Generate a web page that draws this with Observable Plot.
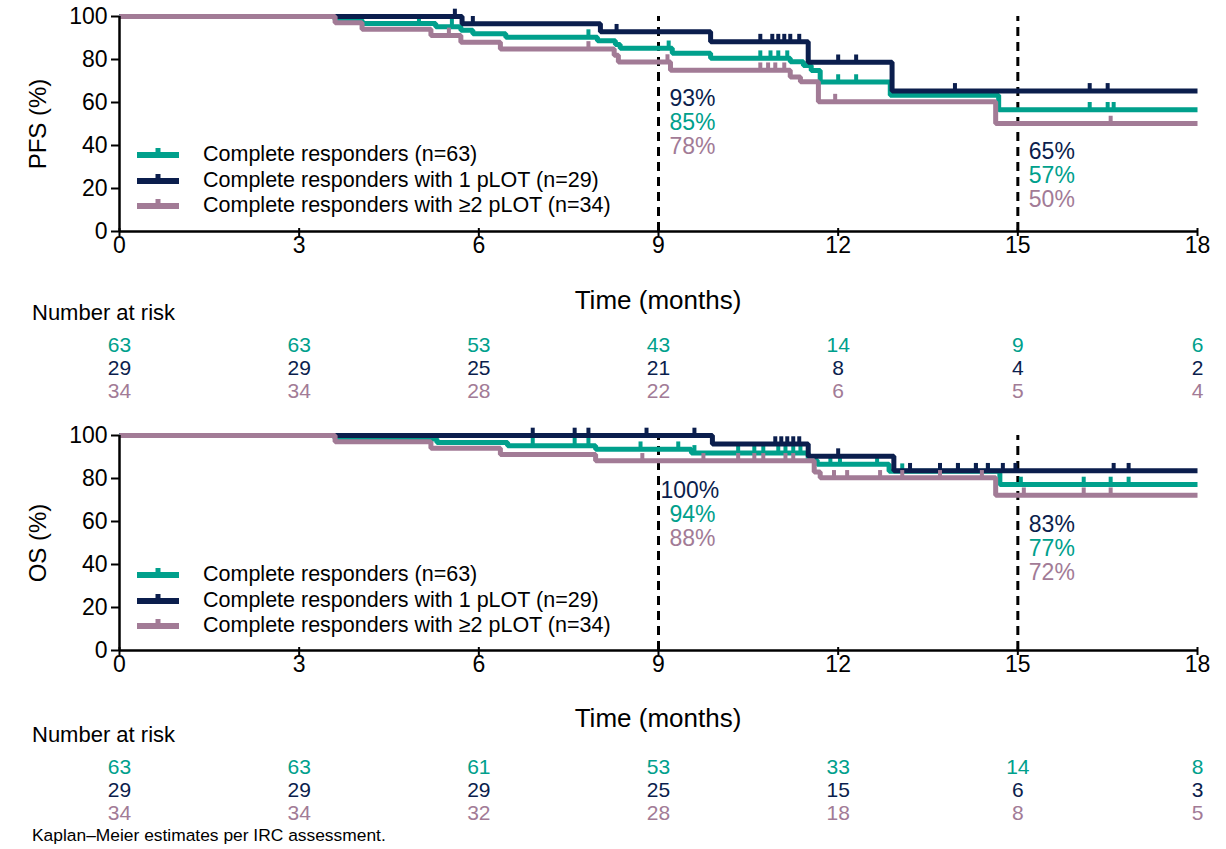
<!DOCTYPE html>
<html><head><meta charset="utf-8">
<script src="https://cdn.jsdelivr.net/npm/d3@7"></script>
<script src="https://cdn.jsdelivr.net/npm/@observablehq/plot@0.6"></script>
<style>
body{margin:0;background:#fff;font-family:"Liberation Sans",Arial,sans-serif;}
#root{position:relative;width:1226px;height:849px;overflow:hidden;background:#fff;}
.abs{position:absolute;white-space:nowrap;}
</style></head><body><div id="root"></div>
<script>
// ---------- data ----------
const groups = ["Complete responders (n=63)", "Complete responders with 1 pLOT (n=29)", "Complete responders with \u22652 pLOT (n=34)"];
const colors = ["#00A08C", "#0B1E4D", "#A27B96"];
const xTicks = [0, 3, 6, 9, 12, 15, 18];
const yTicks = [0, 20, 40, 60, 80, 100];
const landmarks = [9, 15];

// PFS – complete responders
const pfsCR_t = [0, 3.6, 4.05, 5.28, 5.7, 5.9, 6.45, 7.98, 8.28, 8.36, 9.23, 9.87, 11.2, 11.42, 11.55, 11.7, 12.87, 14.68, 18];
const pfsCR_s = [100, 98.4, 96.8, 95.2, 93.6, 92.0, 90.4, 88.7, 87.0, 85.2, 82.9, 80.6, 79.0, 77.2, 74.9, 69.5, 63.4, 56.6, 56.6];
const pfsCR_c = [5.0, 5.55, 7.83, 9.17, 10.7, 10.87, 11.0, 11.15, 12.0, 12.3, 16.2, 16.5, 16.6];
// PFS – 1 pLOT
const pfs1_t = [0, 5.72, 8.03, 9.87, 11.5, 12.9, 18];
const pfs1_s = [100, 96.6, 92.9, 88.3, 78.7, 65.4, 65.4];
const pfs1_c = [5.6, 5.9, 8.3, 10.7, 10.9, 11.0, 11.1, 11.2, 11.35, 12.0, 12.3, 13.95, 16.2, 16.5];
// PFS – >=2 pLOT
const pfs2_t = [0, 3.6, 4.05, 5.2, 5.7, 6.36, 8.26, 8.33, 9.2, 11.2, 11.37, 11.67, 14.63, 18];
const pfs2_s = [100, 97.1, 94.1, 91.2, 88.0, 84.9, 82.0, 78.8, 75.0, 71.9, 69.7, 60.4, 50.2, 50.2];
const pfs2_c = [5.5, 7.83, 9.15, 10.7, 10.83, 10.95, 11.1, 11.95, 16.55];

// OS – complete responders
const osCR_t = [0, 3.6, 5.3, 6.48, 7.95, 9.55, 11.5, 11.65, 12.85, 14.7, 18];
const osCR_s = [100, 98.4, 96.8, 95.2, 93.6, 91.9, 88.5, 86.6, 83.4, 77.2, 77.2];
const osCR_c = [6.9, 7.6, 7.83, 8.7, 9.33, 9.6, 10.33, 10.6, 10.75, 11.0, 11.12, 11.25, 11.37, 11.87, 12.03, 12.65, 13.07, 13.7, 14.0, 14.3, 14.5, 15.05, 16.1, 16.55, 16.85];
// OS – 1 pLOT
const os1_t = [0, 9.9, 11.5, 12.93, 18];
const os1_s = [100, 96.0, 90.4, 83.6, 83.6];
const os1_c = [6.9, 7.6, 7.83, 8.8, 9.6, 10.95, 11.05, 11.15, 11.25, 11.35, 12.0, 13.2, 13.7, 14.0, 14.3, 14.5, 14.75, 14.96, 16.6, 16.85];
// OS – >=2 pLOT
const os2_t = [0, 3.6, 5.2, 6.36, 7.95, 11.6, 11.7, 14.63, 18];
const os2_s = [100, 97.1, 94.1, 91.2, 88.2, 83.0, 80.3, 72.2, 72.2];
const os2_c = [8.73, 9.75, 10.33, 10.6, 10.75, 11.12, 11.25, 11.93, 12.15, 12.7, 13.07, 13.7, 14.4, 15.1, 16.1, 16.55];

// Number at risk
const pfsRiskCR = [63, 63, 53, 43, 14, 9, 6];
const pfsRisk1 = [29, 29, 25, 21, 8, 4, 2];
const pfsRisk2 = [34, 34, 28, 22, 6, 5, 4];
const osRiskCR = [63, 63, 61, 53, 33, 14, 8];
const osRisk1 = [29, 29, 29, 25, 15, 6, 3];
const osRisk2 = [34, 34, 32, 28, 18, 8, 5];

// Landmark estimates (order: 1 pLOT, all CR, >=2 pLOT)
const pfsAt9 = ["93%", "85%", "78%"];
const pfsAt15 = ["65%", "57%", "50%"];
const osAt9 = ["100%", "94%", "88%"];
const osAt15 = ["83%", "77%", "72%"];

// ---------- helpers ----------
const FONT = '"Liberation Sans", Arial, sans-serif';
const root = document.getElementById("root");
function place(el, left, top) { el.classList.add("abs"); el.style.left = left + "px"; el.style.top = top + "px"; root.appendChild(el); return el; }
function textDiv(txt, left, centerY, size, color = "#000", extra = {}) {
  const d = document.createElement("div");
  d.textContent = txt;
  d.style.fontSize = size + "px"; d.style.color = color; d.style.lineHeight = size + "px";
  Object.assign(d.style, extra);
  place(d, left, centerY - size / 2);
  return d;
}
function stepAt(ts, ss, t) { let v = ss[0]; for (let i = 0; i < ts.length; i++) if (ts[i] <= t) v = ss[i]; return v; }
const rowOrder = [1, 0, 2]; // navy, teal, mauve rows for landmark text

function panel(series, at9, at15, base9, base15, dx9) {
  const marks = [
    Plot.ruleX(landmarks, {y1: 0, y2: 100, stroke: "#000", strokeWidth: 3, strokeDasharray: "9,6"})
  ];
  series.forEach((sr, gi) => {
    const pts = sr.t.map((t, i) => ({t, s: sr.s[i]}));
    const cens = sr.c.map(t => ({t, s: stepAt(sr.t, sr.s, t)}));
    marks.push(Plot.line(pts, {x: "t", y: "s", curve: "step-after", stroke: colors[gi], strokeWidth: 5, strokeLinejoin: "miter", strokeLinecap: "butt"}));
    marks.push(Plot.ruleX(cens, {x: "t", y1: "s", y2: d => d.s + 3.4, stroke: colors[gi], strokeWidth: 4}));
  });
  rowOrder.forEach((gi, i) => {
    marks.push(Plot.text([at9[i]], {x: 9, y: base9, dy: i * 24, dx: dx9[i], text: d => d, fill: colors[gi], fontSize: 23, textAnchor: "start", fontFamily: FONT}));
    marks.push(Plot.text([at15[i]], {x: 15, y: base15, dy: i * 24, dx: 11, text: d => d, fill: colors[gi], fontSize: 23, textAnchor: "start", fontFamily: FONT}));
  });
  marks.push(
    Plot.axisX({ticks: xTicks, tickSize: 8, tickPadding: 0, dy: -3, fontSize: 23, strokeWidth: 2, label: null, fontFamily: FONT}),
    Plot.axisY({ticks: yTicks, tickSize: 8, tickPadding: 4, fontSize: 23, strokeWidth: 2, label: null, fontFamily: FONT}),
    Plot.ruleY([0], {strokeWidth: 2.5, stroke: "#000"}),
    Plot.ruleX([0], {strokeWidth: 2.5, stroke: "#000"})
  );
  return Plot.plot({
    width: 1226, height: 312,
    marginLeft: 119, marginRight: 29, marginTop: 16, marginBottom: 81,
    x: {domain: [0, 18]},
    y: {domain: [0, 100]},
    style: {fontFamily: FONT, color: "#000", background: "transparent", overflow: "visible"},
    marks
  });
}

function riskTable(rows) {
  const data = [];
  rows.forEach((vals, gi) => vals.forEach((v, i) => data.push({t: xTicks[i], g: groups[gi], v, gi})));
  return Plot.plot({
    width: 1226, height: 72,
    marginLeft: 119, marginRight: 29, marginTop: 0, marginBottom: 0,
    x: {domain: [0, 18], axis: null},
    y: {type: "point", domain: groups, range: [12, 58], padding: 0, axis: null},
    style: {fontFamily: FONT, background: "transparent", overflow: "visible"},
    marks: [
      Plot.text(data, {x: "t", y: "g", text: "v", fill: d => colors[d.gi], fontSize: 21, fontFamily: FONT})
    ]
  });
}

function legend(topCenter) {
  groups.forEach((g, gi) => {
    const cy = topCenter + gi * 25.5;
    const ns = "http://www.w3.org/2000/svg";
    const svg = document.createElementNS(ns, "svg");
    svg.setAttribute("width", 44); svg.setAttribute("height", 16);
    const ln = document.createElementNS(ns, "line");
    ln.setAttribute("x1", 1); ln.setAttribute("x2", 43); ln.setAttribute("y1", 10); ln.setAttribute("y2", 10);
    ln.setAttribute("stroke", colors[gi]); ln.setAttribute("stroke-width", 6);
    const tk = document.createElementNS(ns, "line");
    tk.setAttribute("x1", 22); tk.setAttribute("x2", 22); tk.setAttribute("y1", 10); tk.setAttribute("y2", 3);
    tk.setAttribute("stroke", colors[gi]); tk.setAttribute("stroke-width", 5);
    svg.appendChild(ln); svg.appendChild(tk);
    place(svg, 136, cy - 10);
    textDiv(g, 203, cy, 21.5);
  });
}

// ---------- panels ----------
const pfsSeries = [
  {t: pfsCR_t, s: pfsCR_s, c: pfsCR_c},
  {t: pfs1_t, s: pfs1_s, c: pfs1_c},
  {t: pfs2_t, s: pfs2_s, c: pfs2_c}
];
const osSeries = [
  {t: osCR_t, s: osCR_s, c: osCR_c},
  {t: os1_t, s: os1_s, c: os1_c},
  {t: os2_t, s: os2_s, c: os2_c}
];
place(panel(pfsSeries, pfsAt9, pfsAt15, 62, 37.2, [11, 11, 11]), 0, 0);
place(riskTable([pfsRiskCR, pfsRisk1, pfsRisk2]), 0, 333);
place(panel(osSeries, osAt9, osAt15, 74.4, 58.6, [2, 11, 11]), 0, 419);
place(riskTable([osRiskCR, osRisk1, osRisk2]), 0, 755);

legend(155);
legend(575);

// axis titles
textDiv("Time (months)", 0, 300, 26, "#000", {width: "1316px", textAlign: "center"});
textDiv("Time (months)", 0, 718, 26, "#000", {width: "1316px", textAlign: "center"});
function yTitle(txt, cy) {
  textDiv(txt, 38, cy, 24, "#000", {transform: "translate(-50%,0) rotate(-90deg)", transformOrigin: "50% 50%"});
}
yTitle("PFS (%)", 124);
yTitle("OS (%)", 543);
textDiv("Number at risk", 32, 313, 22);
textDiv("Number at risk", 32, 735, 22);
textDiv("Kaplan\u2013Meier estimates per IRC assessment.", 32, 836, 17.4);
</script></body></html>
